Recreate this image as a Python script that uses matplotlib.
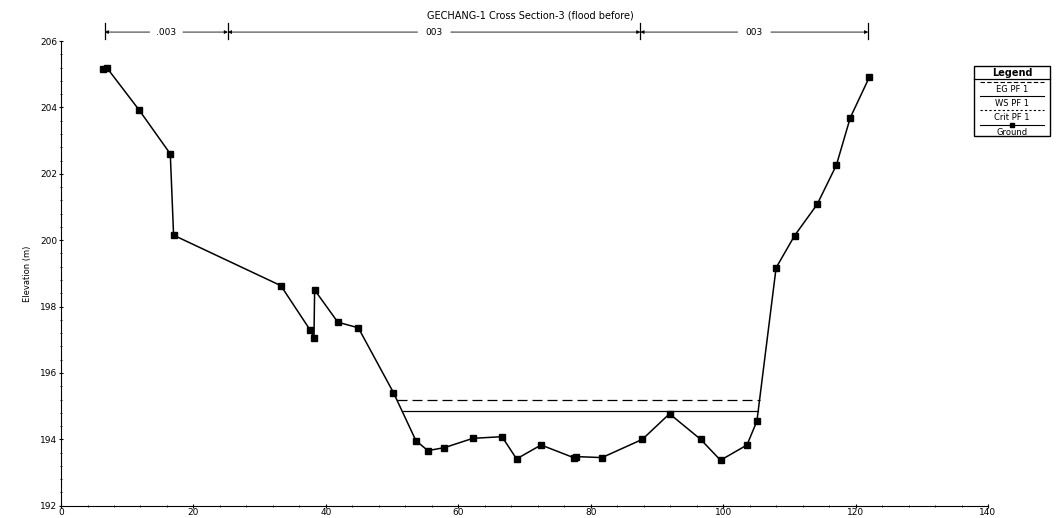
import numpy as np
import matplotlib
matplotlib.use("Agg")
import matplotlib.pyplot as plt
from matplotlib.lines import Line2D
from matplotlib.ticker import MultipleLocator


# ground profile
ground_x = [6.3, 6.9, 11.8, 16.5, 17.0, 33.2, 37.6, 38.2, 38.3, 41.8, 44.9, 50.2,
            53.6, 55.4, 57.9, 62.2, 66.6, 68.8, 72.5, 77.4, 77.8, 81.7, 87.8, 91.9,
            96.6, 99.6, 103.6, 105.1, 108.0, 110.8, 114.2, 117.1, 119.2, 122.1]
ground_y = [205.15, 205.2, 203.92, 202.6, 200.15, 198.63, 197.3, 197.06, 198.5,
            197.53, 197.36, 195.41, 193.96, 193.66, 193.75, 194.03, 194.08, 193.41,
            193.83, 193.45, 193.48, 193.45, 194.0, 194.77, 194.0, 193.37, 193.83,
            194.55, 199.17, 200.14, 201.08, 202.26, 203.69, 204.92]

eg_elev = 195.19
ws_elev = 194.85

bank_x = [6.6, 25.2, 87.5, 121.9]
n_labels = [".003", "003", "003"]

title = "GECHANG-1 Cross Section-3 (flood before)"


def crossing(xs, ys, level):
    xs = np.asarray(xs)
    ys = np.asarray(ys)
    i_min = int(np.argmin(ys))
    # left side: walk back from the lowest point
    left = xs[0]
    for i in range(i_min, 0, -1):
        if ys[i - 1] >= level >= ys[i]:
            left = xs[i - 1] + (ys[i - 1] - level) / (ys[i - 1] - ys[i]) * (xs[i] - xs[i - 1])
            break
    right = xs[-1]
    for i in range(i_min, len(xs) - 1):
        if ys[i] <= level <= ys[i + 1]:
            right = xs[i] + (level - ys[i]) / (ys[i + 1] - ys[i]) * (xs[i + 1] - xs[i])
            break
    return left, right


fig = plt.figure(figsize=(10.56, 5.18), dpi=100)
ax = fig.add_axes([0.0578, 0.0237, 0.8778, 0.8971])

eg_l, eg_r = crossing(ground_x, ground_y, eg_elev)
ws_l, ws_r = crossing(ground_x, ground_y, ws_elev)
ax.plot([eg_l, eg_r], [eg_elev, eg_elev], color="black", lw=0.9, ls=(0, (8, 4)))
ax.plot([ws_l, ws_r], [ws_elev, ws_elev], color="black", lw=0.9)
ax.plot(ground_x, ground_y, color="black", lw=1.1, marker="s", ms=3.8)

ax.set_xlim(0, 140)
ax.set_ylim(192, 206)
ax.xaxis.set_major_locator(MultipleLocator(20))
ax.xaxis.set_minor_locator(MultipleLocator(4))
ax.yaxis.set_major_locator(MultipleLocator(2))
ax.yaxis.set_minor_locator(MultipleLocator(0.4))
ax.tick_params(labelsize=6.5, length=3, width=0.8, pad=1, direction="inout")
ax.tick_params(axis="x", pad=0)
ax.tick_params(which="minor", length=2, width=0.6, direction="inout")
ax.spines["top"].set_visible(False)
ax.spines["right"].set_visible(False)
ax.set_ylabel("Elevation (m)", fontsize=6, labelpad=6)

# bank station brackets with manning n
yb = 206.27
for b in bank_x:
    ax.plot([b, b], [206.05, 206.55], color="black", lw=0.9, clip_on=False)
for i, lab in enumerate(n_labels):
    a, b = bank_x[i], bank_x[i + 1]
    mid = (a + b) / 2
    ax.annotate("", xy=(a, yb), xytext=(mid, yb), annotation_clip=False,
                arrowprops=dict(arrowstyle="-|>", color="black", lw=0.6,
                                mutation_scale=5, shrinkA=12, shrinkB=0))
    ax.annotate("", xy=(b, yb), xytext=(mid, yb), annotation_clip=False,
                arrowprops=dict(arrowstyle="-|>", color="black", lw=0.6,
                                mutation_scale=5, shrinkA=12, shrinkB=0))
    ax.text(mid, yb, lab, fontsize=6.5, ha="center", va="center",
            bbox=dict(facecolor="white", edgecolor="none", pad=0.5), clip_on=False)

fig.text(0.502, 0.97, title, fontsize=7, ha="center", va="center")

# legend box on the right, drawn like the original
lx0, lx1 = 974 / 1056, 1050 / 1056
ly_top, ly_bot = 1 - 66 / 518, 1 - 136 / 518
fig.patches.append(plt.Rectangle((lx0, ly_bot), lx1 - lx0, ly_top - ly_bot,
                                 transform=fig.transFigure, fill=False,
                                 edgecolor="black", lw=1.0))
hdr = 1 - 79 / 518
fig.lines.append(Line2D([lx0, lx1], [hdr, hdr], transform=fig.transFigure,
                        color="black", lw=0.9))
fig.text((lx0 + lx1) / 2, 1 - 72.5 / 518, "Legend", fontsize=7, fontweight="bold",
         ha="center", va="center")
entries = [("EG PF 1", (0, (4, 2))), ("WS PF 1", "-"), ("Crit PF 1", (0, (2, 2))),
           ("Ground", "-")]
for k, (name, style) in enumerate(entries):
    yl = 1 - (82 + 14.2 * k) / 518
    yt = 1 - (89.5 + 14.2 * k) / 518
    ln = Line2D([lx0 + 0.006, lx1 - 0.006], [yl, yl], transform=fig.transFigure,
                color="black", lw=0.8, ls=style)
    fig.lines.append(ln)
    if name == "Ground":
        fig.lines.append(Line2D([(lx0 + lx1) / 2], [yl], transform=fig.transFigure,
                                color="black", marker="s", ms=3))
    fig.text((lx0 + lx1) / 2, yt, name, fontsize=6, ha="center", va="center")

fig.savefig("out.png", dpi=100)
